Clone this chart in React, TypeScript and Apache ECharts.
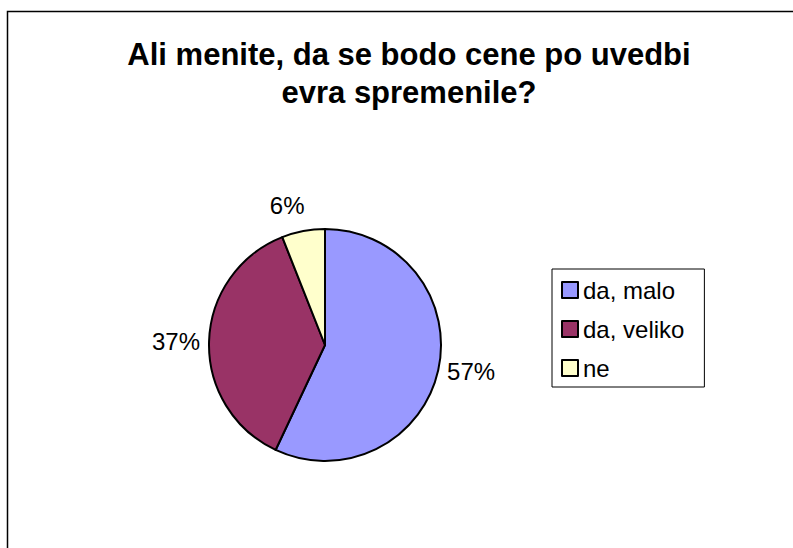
import React, { useEffect, useRef } from "react";
import * as echarts from "echarts";

const titleLines = ["Ali menite, da se bodo cene po uvedbi", "evra spremenile?"];
const categories = ["da, malo", "da, veliko", "ne"];
const values = [57, 37, 6];
const colors = ["#9999FF", "#993366", "#FFFFCC"];

export default function App() {
  const ref = useRef<HTMLDivElement>(null);
  useEffect(() => {
    if (!ref.current) return;
    const chart = echarts.init(ref.current, null, { renderer: "svg" });
    const font = "'Liberation Sans', Arial, sans-serif";
    chart.setOption({
      animation: false,
      backgroundColor: "#ffffff",
      title: {
        text: titleLines.join("\n"),
        left: 404,
        textAlign: "center",
        top: 30,
        textStyle: {
          fontFamily: font,
          fontSize: 31,
          fontWeight: "bold",
          color: "#000",
          lineHeight: 38,
        },
      },
      legend: {
        orient: "vertical",
        left: 552,
        top: 269,
        data: categories,
        icon: "rect",
        itemWidth: 16,
        itemHeight: 16,
        itemGap: 15,
        padding: [9, 20, 7, 9],
        borderColor: "#000",
        borderWidth: 1,
        backgroundColor: "#fff",
        itemStyle: { borderColor: "#000", borderWidth: 2 },
        textStyle: { fontFamily: font, fontSize: 24, color: "#000" },
      },
      graphic: [
        {
          type: "rect",
          shape: { x: 7.5, y: 11.5, width: 900, height: 700 },
          style: { fill: "none", stroke: "#000", lineWidth: 1.5 },
          silent: true,
        },
      ],
      series: [
        {
          type: "pie",
          center: [325, 345],
          radius: 116,
          startAngle: 90,
          clockwise: true,
          avoidLabelOverlap: false,
          data: categories.map((name, i) => ({
            name,
            value: values[i],
            itemStyle: { color: colors[i] },
          })),
          itemStyle: { borderColor: "#000", borderWidth: 2 },
          label: {
            show: true,
            position: "outside",
            formatter: "{d}%",
            fontFamily: font,
            fontSize: 24,
            color: "#000",
          },
          labelLine: { show: false, length: 4, length2: 0 },
          labelLayout: (params: any) => {
            const lr = params.labelRect;
            const r = params.rect;
            const cy = lr.y + lr.height / 2;
            if (cy < r.y) return { dy: -lr.height * 0.9, dx: 7 };
            if (cy > r.y + r.height) return { dy: lr.height * 0.9 };
            return {};
          },
          emphasis: { disabled: true },
        },
      ],
    });
    return () => chart.dispose();
  }, []);
  return (
    <div
      ref={ref}
      style={{ position: "absolute", left: 0, top: 0, width: 793, height: 548 }}
    />
  );
}
